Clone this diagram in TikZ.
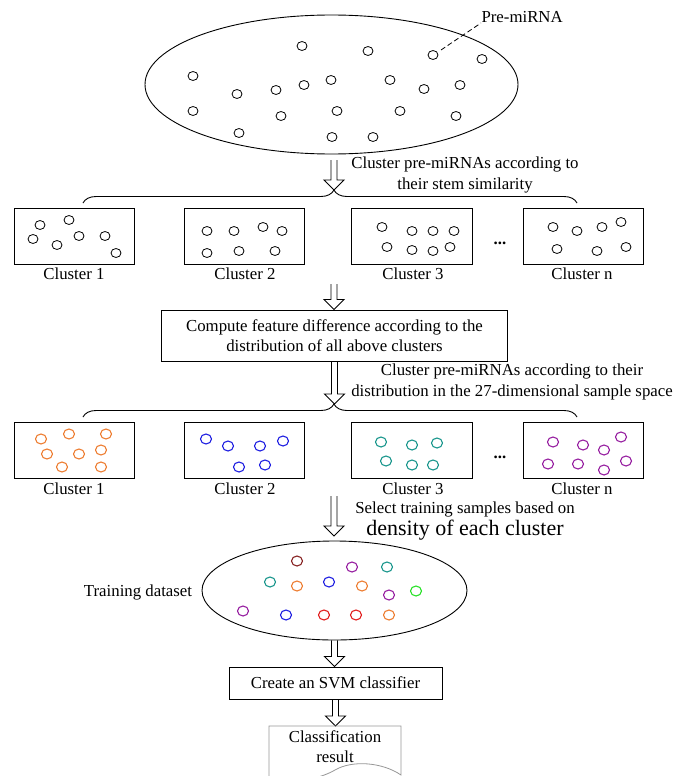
\documentclass[tikz,border=0pt]{standalone}
\usepackage{fontspec}
\setmainfont{Liberation Serif}
\usetikzlibrary{shapes.geometric,decorations.pathreplacing,calc}

\definecolor{mirorange}{RGB}{237,125,49}
\definecolor{mirblue}{RGB}{30,30,225}
\definecolor{mirteal}{RGB}{25,150,140}
\definecolor{mirpurple}{RGB}{150,30,160}
\definecolor{mirmaroon}{RGB}{135,35,35}
\definecolor{mirgreen}{RGB}{40,225,40}
\definecolor{mirred}{RGB}{225,30,30}
\definecolor{docgray}{RGB}{150,150,150}

\tikzset{
  mir/.style={line width=0.8pt},
  cmir/.style={line width=1.1pt},
  clusterbox/.style={draw, line width=1pt, minimum width=120pt, minimum height=56pt},
  stepbox/.style={draw, line width=1pt, align=center, inner sep=2pt},
  setshape/.style={draw, ellipse, line width=0.9pt},
  bracket/.style={decorate, decoration={brace, amplitude=13pt, aspect=0.508}, line width=0.9pt},
}

% hollow block arrow pointing down, from #1 to #2
\newcommand{\blockdown}[2]{%
  \draw[line width=0.9pt] let \p1=(#1), \p2=(#2) in
    (\x1-3pt,\y1) -- (\x1-3pt,\y2+10pt) -- (\x1-10pt,\y2+10pt) -- (\x1,\y2)
    -- (\x1+10pt,\y2+10pt) -- (\x1+3pt,\y2+10pt) -- (\x1+3pt,\y1);}

\begin{document}
\begin{tikzpicture}[x=1pt, y=-1pt, font=\fontsize{16.8}{20.5}\selectfont]
  \useasboundingbox (0,0) rectangle (677,776);

  % all pre-miRNAs
  \node[setshape, minimum width=373pt, minimum height=139pt] (pool) at (331.5,84.5) {};
  \foreach \x/\y in {302/46, 368/51, 433/55, 482/59, 193/76, 237/94, 276/90, 304/85, 331/80, 390/80,
                     424/89, 460/85, 193/111, 281/116, 337/111, 400/111, 456/116, 239/133, 332/137, 373/137}
    \draw[mir] (\x,\y) circle[x radius=5pt, y radius=4.5pt];
  \node[anchor=west] (prelab) at (478,17) {Pre-miRNA};
  \coordinate (premir) at (441,50);
  \coordinate (pretail) at (481,23);
  \draw[dashed, dash pattern=on 5pt off 3pt, line width=0.8pt] (premir) -- (pretail);

  % first clustering
  \coordinate (a1top) at (334,160);
  \coordinate (b1tip) at (334,190);
  \blockdown{a1top}{b1tip}
  \node[align=center] (step1) at (465,175) {Cluster pre-miRNAs according to\\their stem similarity};
  \draw[bracket] (83,203) -- (577,203);

  \node[clusterbox] (ca1) at (74,236) {};
  \node[clusterbox] (ca2) at (244,236) {};
  \node[clusterbox, minimum width=121pt] (ca3) at (411.5,236) {};
  \node[clusterbox] (can) at (583,236) {};
  \node (dotsa) at (500,243) {\textbf{...}};
  \node (la1) at (74,274) {Cluster 1};
  \node (la2) at (245,274) {Cluster 2};
  \node (la3) at (413,274) {Cluster 3};
  \node (lan) at (582,274) {Cluster n};
  \foreach \x/\y in {40/225, 69/220, 33/239, 57/245, 79/236, 105/236, 116/253,
                     207/231, 234/231, 263/227, 282/231, 207/253, 239/251, 275/251,
                     382/227, 412/231, 433/231, 454/231, 387/247, 412/250, 433/251, 450/247,
                     553/227, 577/231, 602/227, 621/222, 557/249, 597/251, 626/247}
    \draw[mir] (\x,\y) circle[x radius=5pt, y radius=4.5pt];

  % feature difference
  \node[stepbox, minimum width=346pt, minimum height=51pt] (feat) at (334.5,335.5)
    {Compute feature difference according to the\\distribution of all above clusters};
  \coordinate (a2top) at (334,284);
  \blockdown{a2top}{feat.north}

  % second clustering
  \coordinate (b2tip) at (334,404);
  \blockdown{feat.south}{b2tip}
  \node[align=center] (step2) at (512,382)
    {Cluster pre-miRNAs according to their\\distribution in the 27-dimensional sample space};
  \draw[bracket] (83,417) -- (577,417);

  \node[clusterbox] (cb1) at (74,450) {};
  \node[clusterbox] (cb2) at (244,450) {};
  \node[clusterbox, minimum width=121pt] (cb3) at (411.5,450) {};
  \node[clusterbox] (cbn) at (583,450) {};
  \node (dotsb) at (500,457) {\textbf{...}};
  \node (lb1) at (74,489) {Cluster 1};
  \node (lb2) at (245,489) {Cluster 2};
  \node (lb3) at (413,489) {Cluster 3};
  \node (lbn) at (582,489) {Cluster n};
  \foreach \x/\y/\c in {41/439/mirorange, 69/434/mirorange, 106/434/mirorange, 47/454/mirorange,
                        79/454/mirorange, 101/450/mirorange, 62/467/mirorange, 101/467/mirorange,
                        206/439/mirblue, 228/446/mirblue, 260/446/mirblue, 283/441/mirblue,
                        239/467/mirblue, 265/465/mirblue,
                        381/442/mirteal, 412/445/mirteal, 437/443/mirteal, 386/461/mirteal,
                        412/465/mirteal, 433/465/mirteal,
                        553/442/mirpurple, 583/445/mirpurple, 604/450/mirpurple, 621/437/mirpurple,
                        548/464/mirpurple, 578/464/mirpurple, 604/470/mirpurple, 626/461/mirpurple}
    \draw[cmir, \c] (\x,\y) circle[x radius=5.5pt, y radius=5pt];

  % training set
  \coordinate (a3top) at (334,496);
  \coordinate (a3tip) at (334,536);
  \blockdown{a3top}{a3tip}
  \node[align=center] (step3) at (465,521)
    {Select training samples based on\\[1pt]{\fontsize{22}{24}\selectfont density of each cluster}};
  \node[setshape, minimum width=265pt, minimum height=99pt] (train) at (334.5,590.5) {};
  \node (trainlab) at (138,592) {Training dataset};
  \foreach \x/\y/\c in {297/561/mirmaroon, 352/567/mirpurple, 387/567/mirteal, 270/582/mirteal,
                        297/586/mirorange, 329/582/mirblue, 362/586/mirorange, 389/595/mirpurple,
                        416/591/mirgreen, 243/611/mirpurple, 286/615/mirblue, 324/615/mirred,
                        356/615/mirred, 389/615/mirorange}
    \draw[cmir, \c] (\x,\y) circle[x radius=5.5pt, y radius=5pt];

  % classifier and result
  \node[stepbox, minimum width=213pt, minimum height=32pt] (svm) at (335.5,683) {Create an SVM classifier};
  \blockdown{train.south}{svm.north}
  \coordinate (doctop) at (334,726);
  \blockdown{svm.south}{doctop}
  \draw[docgray, line width=0.8pt] (269,726) -- (401,726) -- (401,775)
    .. controls (382,762) and (352,760) .. (335,770)
    .. controls (318,780) and (290,784) .. (269,777) -- cycle;
  \node[align=center] (result) at (335,746.5) {Classification\\result};
\end{tikzpicture}
\end{document}
